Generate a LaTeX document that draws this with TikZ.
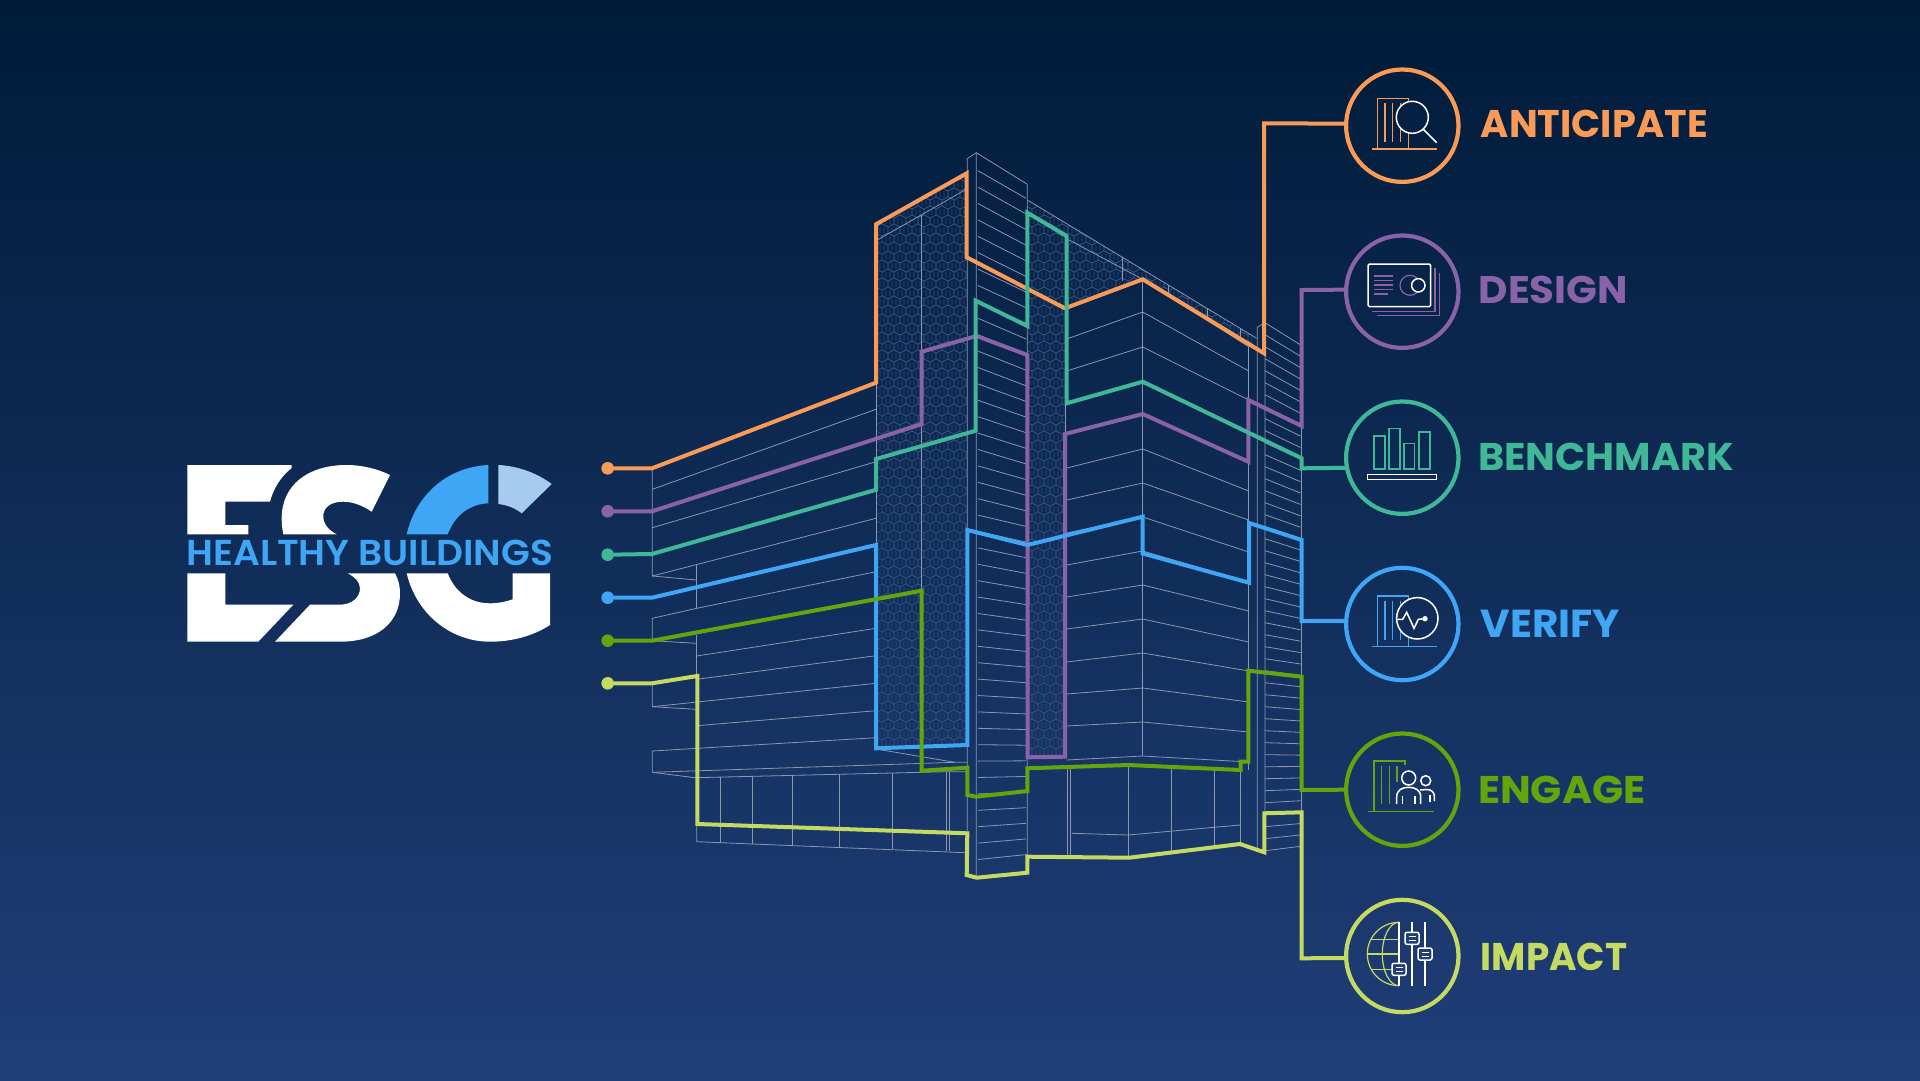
\documentclass[tikz,border=0pt]{standalone}
\usepackage{fontspec}
\setmainfont{Poppins}
\newfontfamily\labelfont{Poppins}
\newfontfamily\logofont{Poppins SemiBold}
\definecolor{bgtop}{HTML}{001B38}
\definecolor{bgbot}{HTML}{203E78}
\definecolor{wire}{HTML}{8C96AE}
\definecolor{hexcol}{HTML}{2F4C7C}
\definecolor{cA}{HTML}{F99B56}
\definecolor{cB}{HTML}{8A62A8}
\definecolor{cC}{HTML}{40B898}
\definecolor{cD}{HTML}{3FA6F5}
\definecolor{cE}{HTML}{63A60C}
\definecolor{cF}{HTML}{C5DA63}
\definecolor{cLight}{HTML}{A6CBF0}
\tikzset{
  wireline/.style={draw=wire,line width=.8pt},
  route/.style={line width=4pt},
  stepcircle/.style={circle,draw=#1,line width=4.2pt,minimum size=112.4pt,inner sep=0pt},
  stepdot/.style={circle,fill=#1,minimum size=12.6pt,inner sep=0pt},
  steptext/.style={anchor=west,inner sep=0pt,text=#1},
  iconthin/.style={draw=#1,line width=1.2pt},
  iconwhite/.style={draw=white,line width=1.5pt}
}
\newcommand{\fittext}[3]{\resizebox{#1pt}{#2pt}{\labelfont\bfseries #3}}
\begin{document}
\begin{tikzpicture}[x=1pt,y=-1pt]
\useasboundingbox (0,0) rectangle (1920,1081);
% Background
\shade[top color=bgtop,bottom color=bgbot] (0,0) rectangle (1920,1081);

% Hexagon panels
\begin{scope}
\clip (876,224.3) -- (966.7,173.3) -- (966.7,746) -- (876,749) -- cycle
      (1027.3,200) -- (1256.7,338.3) -- (1248.7,346.7) -- (1142.7,279.3) -- (1065,308.3) -- (1065,757) -- (1027.3,757) -- cycle;
\foreach \j in {0,...,66} {
  \pgfmathsetmacro{\yy}{170+9*\j}
  \pgfmathsetmacro{\off}{876+6*mod(\j,2)}
  \foreach \i in {0,...,32} {
    \pgfmathsetmacro{\xx}{\off+12*\i}
    \draw[hexcol,line width=.7pt] (\xx,\yy+3) -- (\xx+6,\yy) -- (\xx+12,\yy+3) -- (\xx+12,\yy+9) -- (\xx+6,\yy+12) -- (\xx,\yy+9) -- cycle
      (\xx+4,\yy+3) -- (\xx+4,\yy+9) (\xx+8,\yy+3) -- (\xx+8,\yy+9);
  }
}
\end{scope}

% Left wing
\draw[wireline] (652.3,468.3) -- (652.3,576) -- (696.7,580);
\draw[wireline] (696.7,565) -- (696.7,608.3);
\draw[wireline] (652.3,489.3) -- (876,409.3);
\draw[wireline] (652.3,527.7) -- (876,461.7);
\draw[wireline] (652.3,576) -- (876,518.3);
\draw[wireline] (652.3,640.7) -- (652.3,618.3) -- (696.7,608.3) -- (876,571.7);
\draw[wireline] (652.3,640.7) -- (696,643.3);
\draw[wireline] (696.7,635) -- (696.7,675);
\draw[wireline] (696.7,656) -- (876,628.3);
\draw[wireline] (696.7,679.3) -- (876,655.7);
\draw[wireline] (652.3,685) -- (652.3,706.7) -- (696,709.3);
\draw[wireline] (652.3,706.7) -- (876,683.3);
\draw[wireline] (696.7,725.7) -- (876,710.7);
\draw[wireline] (652.3,772.3) -- (652.3,751) -- (876,737.7);
\draw[wireline] (652.3,772.3) -- (955,762.3) -- (967.3,762.3);
\draw[wireline] (652.3,772.3) -- (695,777.7) -- (946.7,771.7) -- (967.3,771.7);
\draw[wireline] (876,749) -- (955,762.3);
\draw[wireline] (696.7,777.7) -- (696.7,841.7) -- (965,852.7);
\foreach \xa/\ya/\yb in {720/777/843,752.3/776/844,792/775/845,839.3/774/847,892.3/773/849,946.7/772/851,949.3/772/851}
  \draw[wireline] (\xa,\ya) -- (\xa,\yb);

% Tower column
\draw[wireline] (876,224.3) -- (876,749);
\draw[wireline] (921.7,215) -- (921.7,590);
\draw[wireline] (877.3,240) -- (965,190);
\draw[wireline] (967.3,875) -- (967.3,158.7) -- (976.3,152.7) -- (976.3,877);
\draw[wireline] (976.3,152.7) -- (1027.3,184.3) -- (1027.3,857);
\foreach \k in {0,...,42} {
  \pgfmathsetmacro{\ya}{170.7+16.4*\k}
  \pgfmathsetmacro{\yb}{\ya+49.3*(.56-.66*\k/42)}
  \draw[wireline] (978,\ya) -- (1026,\yb);
}

% Right wing
\draw[wireline] (1027.3,200) -- (1256.7,338.3);
\draw[wireline] (1065,236) -- (1065,757);
\draw[wireline] (1069,240) -- (1142.7,279.3) -- (1248.7,346.7);
\draw[wireline] (1142.7,279.3) -- (1142.7,756);
\foreach \xa/\ya/\yb in {1122.3/256.7/281,1168.3/285/295,1207.5/308/321,1240/328/340}
  \draw[wireline] (\xa,\ya) -- (\xa,\yb);
\foreach \ya/\yb/\yc in {339/312/371,371/347/400,403/381/432,434/413/462,468/449/491,500/483/520,533/517/552,565/551/582,597/585/611,629/619/642,662/653/671,694/688/702,726/722/732,760/756/762}
  \draw[wireline] (1066.7,\ya) -- (1142.7,\yb) -- (1248.7,\yc);
\draw[wireline] (1248.7,346.7) -- (1248.7,770);
\draw[wireline] (1257.3,848) -- (1257.3,327.3) -- (1265,322.7) -- (1265,852);
\draw[wireline] (1301.7,343) -- (1301.7,860);
\foreach \k in {0,...,44} {
  \pgfmathsetmacro{\ya}{322.7+12*\k}
  \pgfmathsetmacro{\yb}{\ya+37*(.6-.72*\k*12/529)}
  \draw[wireline] (1265,\ya) -- (1300.5,\yb);
}
% Ground floor
\foreach \xa/\ya/\yb in {1067.7/769/856,1070.7/769/856,1128.3/766/857,1171.7/767/851,1214.3/769/846,1240/770/844}
  \draw[wireline] (\xa,\ya) -- (\xa,\yb);
\draw[wireline] (1071.7,833.3) -- (1128.3,835) -- (1240,825);

% Steps
\node[stepcircle=cA] (circA) at (1402.3,125.7) {};
\node[stepcircle=cB] (circB) at (1402.3,291.7) {};
\node[stepcircle=cC] (circC) at (1402.3,457.7) {};
\node[stepcircle=cD] (circD) at (1402.3,624) {};
\node[stepcircle=cE] (circE) at (1402.3,789.7) {};
\node[stepcircle=cF] (circF) at (1402.3,956) {};
\node[steptext=cA] (textA) at (1480.7,123.4) {\fittext{226.8}{27.4}{ANTICIPATE}};
\node[steptext=cB] (textB) at (1478.5,290.1) {\fittext{149.2}{27.4}{DESIGN}};
\node[steptext=cC] (textC) at (1477.8,456.7) {\fittext{255.9}{27.4}{BENCHMARK}};
\node[steptext=cD] (textD) at (1480.7,623.4) {\fittext{139.1}{27.4}{VERIFY}};
\node[steptext=cE] (textE) at (1477.8,790.1) {\fittext{167.5}{27.4}{ENGAGE}};
\node[steptext=cF] (textF) at (1480.7,956.7) {\fittext{146.5}{27.4}{IMPACT}};
\node[stepdot=cA] (dotA) at (607.7,468.3) {};
\node[stepdot=cB] (dotB) at (607.7,511.3) {};
\node[stepdot=cC] (dotC) at (607.7,554.7) {};
\node[stepdot=cD] (dotD) at (607.7,597.7) {};
\node[stepdot=cE] (dotE) at (607.7,640.7) {};
\node[stepdot=cF] (dotF) at (607.7,683.3) {};

% Routes
\draw[route,cA] (dotA) -- (652,468.3) -- (876,382.7) -- (876,224.3) -- (966.7,173.3) -- (966.7,257.3) -- (1065,308.3) -- (1142.7,279.3) -- (1264,353.3) -- (1264,123.3) -- (circA.178);
\draw[route,cB] (dotB) -- (652,511.3) -- (921.7,424) -- (921.7,351.7) -- (976.7,336) -- (1027.3,355) -- (1027.7,757.3) -- (1065,756.7) -- (1065,434) -- (1142.7,414) -- (1248.3,461.7) -- (1248.3,400) -- (1301.7,426) -- (1301.7,290) -- (circB.178);
\draw[route,cD] (dotD) -- (652,597.7) -- (876,545) -- (876,748.3) -- (967.3,745) -- (967.3,530) -- (1027.3,545) -- (1142.7,516.7) -- (1142.7,553.5) -- (1249,582.7) -- (1249,522.9) -- (1301.7,540) -- (1301.7,621) -- (circD.177);
\draw[route,cC] (dotC) -- (652,554) -- (876,489.8) -- (876,459) -- (975.7,430.7) -- (975.7,300.7) -- (1027.3,326) -- (1027.3,212.7) -- (1066.7,236) -- (1066.7,403.3) -- (1142.7,381.7) -- (1301.7,458.3) -- (1301.7,468.3) -- (circC.190.5);
\draw[route,cE] (dotE) -- (652,640.7) -- (921.7,590.7) -- (921.7,770.7) -- (967.3,767.7) -- (967.3,795) -- (976,796.7) -- (1027.3,791) -- (1027.3,768.3) -- (1128.3,765) -- (1240.7,770) -- (1240.7,761.7) -- (1248.3,761.7) -- (1248.3,670.7) -- (1301.7,676.7) -- (1301.7,790) -- (circE.180);
\draw[route,cF] (dotF) -- (652,683.3) -- (697.3,676) -- (697.3,824) -- (967.3,833.3) -- (966.7,875) -- (976.7,877.7) -- (1027.3,872.7) -- (1027.3,856.7) -- (1129.3,857.7) -- (1240,844) -- (1264.3,852.3) -- (1264.3,813.3) -- (1301.7,812.3) -- (1301.7,958.3) -- (circF.182);

% Logo
\fill[white] (187.3,465) -- (291.7,465) -- (291.7,468) .. controls (280,477) and (273,490) .. (270,501.7) -- (225.3,501.7) -- (225.3,525) -- (248.3,525) -- (248.3,534.3) -- (187.3,534.3) -- cycle;
\fill[white] (187.3,573.3) -- (225.3,573.3) -- (225.3,604.7) -- (293.3,604.7) -- (258.3,641.7) -- (187.3,641.7) -- cycle;
\fill[white] (283.3,534.3) .. controls (282,528) and (281.7,523) .. (281.7,518.3) .. controls (281.7,485) and (308,465) .. (346.7,465) .. controls (362,465) and (378,469) .. (390,475) -- (371.7,511.7) .. controls (362,505) and (352,501.7) .. (343,501.7) .. controls (330,501.7) and (323,508) .. (323.3,516.7) .. controls (323.5,525) and (330,531) .. (336.7,534.3) -- cycle;
\fill[white] (347.7,573.3) .. controls (355,577) and (360,582) .. (360,588.3) .. controls (360,598) and (351,604.7) .. (340,604.7) -- (310,604.7) -- (275,641.7) -- (340,641.7) .. controls (378,641.7) and (400,622) .. (400,593.3) .. controls (400,585) and (398,579) .. (395,573.3) -- cycle;
\fill[cD] (488.3,465) -- (488.3,503.3) .. controls (470,504) and (455,515) .. (447.7,534.3) -- (406.7,534.3) .. controls (416,494) and (448,467) .. (488.3,465) -- cycle;
\fill[cLight] (498.3,465) .. controls (518,466) and (537,473) .. (551.7,484) -- (521.7,513.3) .. controls (515,508) and (507,505) .. (498.3,504) -- cycle;
\fill[white] (406.7,573.3) .. controls (416,613) and (450,641.7) .. (490,641.7) .. controls (512,641.7) and (533,636) .. (550,625) -- (550,573.3) -- (512.7,573.3) -- (512.7,599.3) .. controls (505,602) and (498,603.3) .. (490,603.3) .. controls (470,603.3) and (455,592) .. (447.7,573.3) -- cycle;
\node[anchor=west,inner sep=0pt,text=cD] (logotext) at (186.3,552.5) {\resizebox{366.4pt}{25.5pt}{\logofont HEALTHY BUILDINGS}};

% Icon anticipate
\draw[iconthin=cA] (1371.7,149) -- (1437.3,149);
\draw[iconthin=cA] (1377.3,149) -- (1377.3,98.3) -- (1408.3,98.3) -- (1408.3,149);
\foreach \xa in {1385,1392.7,1400.3}
  \draw[iconthin=cA] (\xa,103.3) -- (\xa,141.7);
\draw[iconwhite,fill=bgtop!85!bgbot] (1412.3,117.3) circle (16);
\draw[iconwhite] (1423.3,129.3) -- (1436.7,142.7);

% Icon design
\draw[iconthin=cB] (1376.7,315.7) -- (1439.3,315.7) -- (1439.3,273.3);
\draw[iconthin=cB] (1371.7,311.7) -- (1435,311.7) -- (1435,268.3);
\draw[iconwhite,rounded corners=1.5pt] (1368,264) rectangle (1430.7,306.7);
\foreach \ya/\xa in {276/1392.7,280.7/1392.7,285/1392.7,289.3/1392.7,294/1387.7}
  \draw[iconthin=cB] (1374.3,\ya) -- (\xa,\ya);
\draw[iconthin=cB] (1410,285.3) circle (10);
\draw[iconwhite,fill=bgtop!70!bgbot] (1418.3,285.3) circle (6.7);

% Icon benchmark
\draw[iconthin=cC] (1374,469) rectangle (1385,436);
\draw[iconthin=cC] (1389,469) rectangle (1400,428.3);
\draw[iconthin=cC] (1404,469) rectangle (1414.7,443.3);
\draw[iconthin=cC] (1419,469) rectangle (1430,432);
\draw[iconwhite] (1367.3,474.3) rectangle (1436.7,479.3);

% Icon verify
\draw[iconthin=cD] (1371.7,646.7) -- (1437.3,646.7);
\draw[iconthin=cD] (1377.3,646.7) -- (1377.3,596) -- (1408.3,596) -- (1408.3,646.7);
\foreach \xa in {1385,1392.7,1400.3}
  \draw[iconthin=cD] (\xa,600.7) -- (\xa,640);
\draw[iconwhite,fill=bgtop!50!bgbot] (1417.3,618.3) circle (20.7);
\draw[iconwhite] (1397.3,619.3) -- (1402.7,619.3) -- (1406.7,612.3) -- (1414,628.3) -- (1418.3,619.3) -- (1425,618.7);
\fill[white] (1425,618.7) circle (2.7);

% Icon engage
\draw[iconthin=cE] (1368.3,811.7) -- (1434,811.7);
\draw[iconthin=cE] (1374,811.7) -- (1374,761) -- (1405,761) -- (1405,765);
\foreach \xa/\ya in {1381.7/804.3,1389.3/804.3,1397/781.7}
  \draw[iconthin=cE] (\xa,766) -- (\xa,\ya);
\draw[iconwhite] (1408.7,778) circle (7);
\draw[iconwhite] (1396.7,804) -- (1396.7,797) .. controls (1396.7,790) and (1402,787.3) .. (1408.7,787.3) .. controls (1415,787.3) and (1420.7,790) .. (1420.7,797) -- (1420.7,804);
\draw[iconwhite] (1402.7,796) -- (1402.7,804);
\draw[iconwhite] (1415,796) -- (1415,804);
\draw[iconwhite] (1425.7,780.7) circle (5);
\draw[iconwhite] (1420,790) -- (1427,789.5) .. controls (1431,789.5) and (1434.3,792) .. (1434.3,796) -- (1434.3,801);
\draw[iconwhite] (1430,795) -- (1430,802);

% Icon impact
\draw[iconthin=cF] (1399,922.3) arc (-90:-270:31.7);
\draw[iconthin=cF] (1399,922.3) arc (-90:-270:16.7 and 31.7);
\draw[iconthin=cF] (1371,939.3) -- (1399,939.3);
\draw[iconthin=cF] (1367.3,954) -- (1399,954);
\draw[iconthin=cF] (1371,969.3) -- (1399,969.3);
\foreach \xa/\ya in {1399/969.3,1412/938.3,1425/954} {
  \draw[iconwhite] (\xa,922.3) -- (\xa,986);
  \draw[iconwhite,fill=bgbot,rounded corners=2pt] (\xa-7,\ya-6) rectangle (\xa+7,\ya+6);
  \draw[iconwhite,line width=1pt] (\xa-3.5,\ya-2) -- (\xa+3.5,\ya-2) (\xa-3.5,\ya+2) -- (\xa+3.5,\ya+2);
}
\end{tikzpicture}
\end{document}
